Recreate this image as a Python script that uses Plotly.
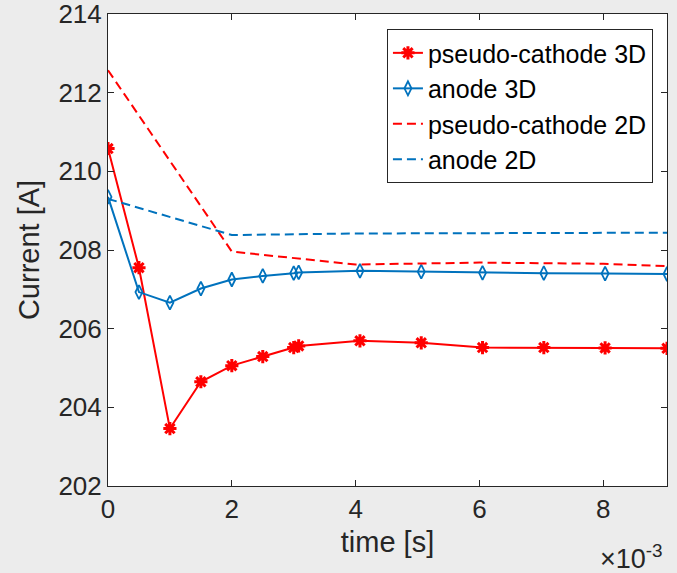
import plotly.graph_objects as go

# ---- data (time in seconds, current in A) ----
time_3d = [0.0, 0.5e-3, 1.0e-3, 1.5e-3, 2.0e-3, 2.5e-3, 3.0e-3, 3.08e-3,
           4.07e-3, 5.06e-3, 6.05e-3, 7.04e-3, 8.03e-3, 9.03e-3]
pc_3d = [210.58, 207.55, 203.46, 204.65, 205.06, 205.29, 205.52, 205.56,
         205.69, 205.64, 205.52, 205.52, 205.51, 205.50]
anode_3d = [209.35, 206.93, 206.66, 207.02, 207.25, 207.34, 207.41, 207.43,
            207.47, 207.45, 207.42, 207.41, 207.40, 207.39]

time_2d = [0.0, 2.0e-3, 4.0e-3, 6.0e-3, 8.0e-3, 9.03e-3]
pc_2d = [212.57, 207.96, 207.63, 207.68, 207.65, 207.59]
anode_2d = [209.30, 208.38, 208.42, 208.43, 208.44, 208.44]

x_tickvals = [0, 2e-3, 4e-3, 6e-3, 8e-3]
x_ticktext = ["0", "2", "4", "6", "8"]
y_tickvals = [202, 204, 206, 208, 210, 212, 214]
y_ticktext = ["202", "204", "206", "208", "210", "212", "214"]

RED = "#ff0000"
BLUE = "#0072bd"
AXC = "#262626"
FONT = "Liberation Sans, Arial, sans-serif"

fig = go.Figure()
fig.add_trace(go.Scatter(
    x=time_3d, y=pc_3d, mode="lines+markers", name="pseudo-cathode 3D",
    line=dict(color=RED, width=2),
    marker=dict(symbol="asterisk-open", size=11, color=RED,
                line=dict(color=RED, width=3))))
fig.add_trace(go.Scatter(
    x=time_3d, y=anode_3d, mode="lines+markers", name="anode 3D",
    line=dict(color=BLUE, width=2),
    marker=dict(symbol="diamond-tall-open", size=10, color=BLUE,
                line=dict(color=BLUE, width=1.8))))
fig.add_trace(go.Scatter(
    x=time_2d, y=pc_2d, mode="lines", name="pseudo-cathode 2D",
    line=dict(color=RED, width=2, dash="9px,5px")))
fig.add_trace(go.Scatter(
    x=time_2d, y=anode_2d, mode="lines", name="anode 2D",
    line=dict(color=BLUE, width=2, dash="9px,5px")))

fig.update_layout(
    width=677, height=573,
    margin=dict(l=108, r=10, t=14, b=87, autoexpand=False),
    paper_bgcolor="#ececec",
    plot_bgcolor="#ffffff",
    font=dict(family=FONT, color=AXC, size=26),
    showlegend=True,
    legend=dict(x=0.499, y=0.968, xanchor="left", yanchor="top",
                bgcolor="#ffffff", bordercolor=AXC, borderwidth=1,
                font=dict(size=25, color="#000000"),
                tracegroupgap=0, itemwidth=30),
)
fig.update_xaxes(
    range=[0, 9.03e-3], tickvals=x_tickvals, ticktext=x_ticktext,
    showline=True, linecolor=AXC, linewidth=1, mirror="ticks",
    ticks="inside", ticklen=6, tickcolor=AXC, showgrid=False, zeroline=False,
    tickfont=dict(size=26), automargin=False, ticklabeloverflow="allow",
    title=dict(text="time [s]", font=dict(size=29), standoff=8),
)
fig.update_yaxes(
    range=[202, 214], tickvals=y_tickvals, ticktext=y_ticktext,
    showline=True, linecolor=AXC, linewidth=1, mirror="ticks",
    ticks="inside", ticklen=6, tickcolor=AXC, showgrid=False, zeroline=False,
    tickfont=dict(size=26), automargin=False, ticklabeloverflow="allow",
    title=dict(text="Current [A]", font=dict(size=29), standoff=10),
)
fig.add_annotation(
    xref="paper", yref="paper", x=0.9964, y=-0.19, xanchor="right", yanchor="bottom",
    text="\u00d710<sup>-3</sup>", showarrow=False, font=dict(size=27, color=AXC))

fig.write_html("out.html", config={"displayModeBar": False})

# remove the default page margin so the figure sits at the window's corner
with open("out.html", "r", encoding="utf-8") as f:
    html = f.read()
html = html.replace("<head>", "<head><style>html,body{margin:0;padding:0;overflow:hidden;}</style>", 1)
with open("out.html", "w", encoding="utf-8") as f:
    f.write(html)
